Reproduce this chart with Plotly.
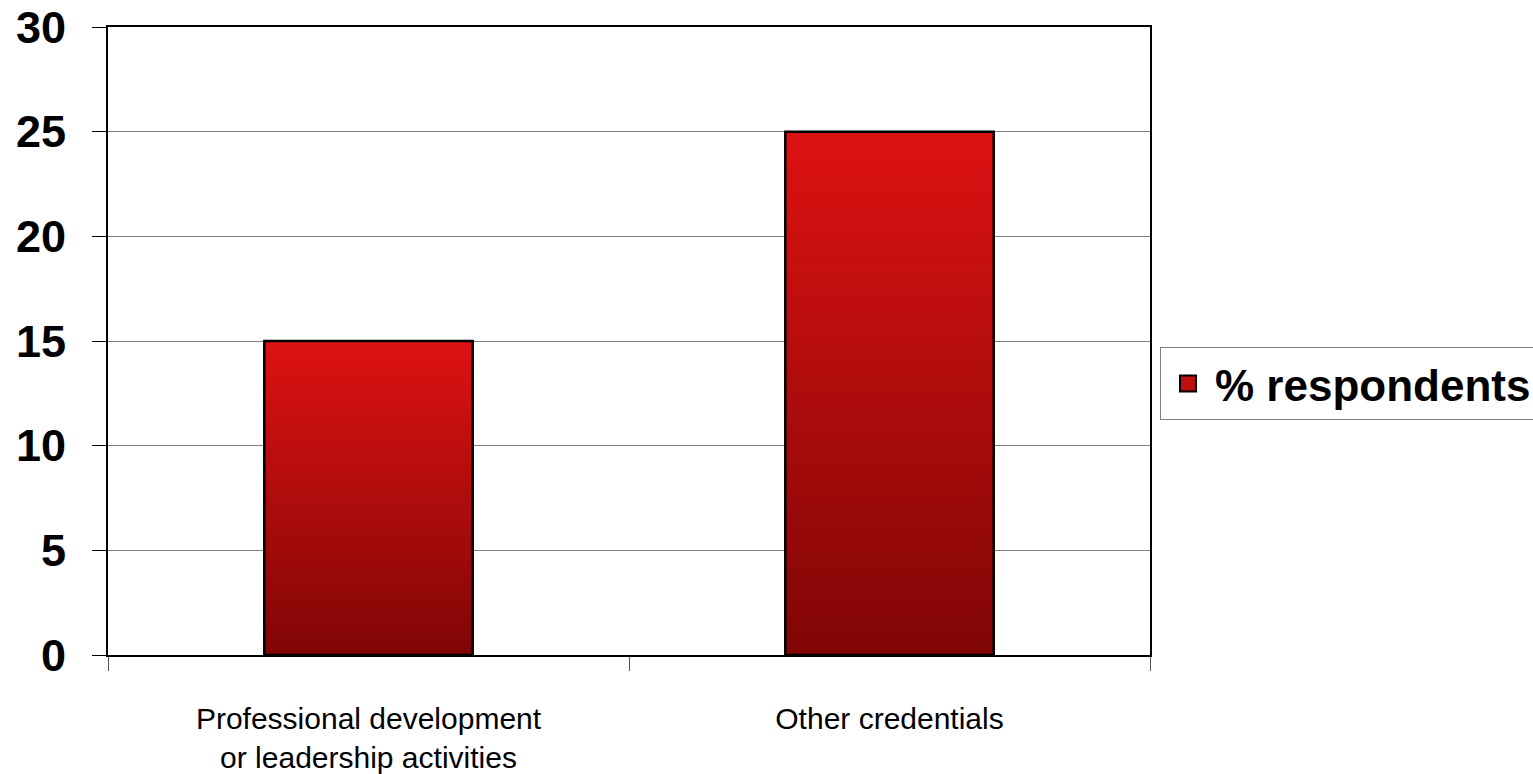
import plotly.graph_objects as go

categories = ["Professional development<br>or leadership activities", "Other credentials"]
values = [15, 25]
series_name = "% respondents"
y_ticks = [0, 5, 10, 15, 20, 25, 30]

N = 60
bottom = (128, 6, 6)
top = (222, 18, 18)

fig = go.Figure()
for i in range(N):
    t = (i + 0.5) / N
    c = tuple(round(bottom[k] + (top[k] - bottom[k]) * t) for k in range(3))
    col = f"rgb{c}"
    fig.add_trace(go.Bar(
        x=categories,
        y=[v / N for v in values],
        base=[v * i / N for v in values],
        width=0.4,
        marker=dict(color=col, line=dict(color=col, width=1.5)),
        showlegend=False, hoverinfo="skip",
    ))
# outline
fig.add_trace(go.Bar(
    x=categories, y=values, width=0.4,
    marker=dict(color="rgba(0,0,0,0)", line=dict(color="black", width=2.5)),
    showlegend=False,
))
# legend entry
fig.add_trace(go.Scatter(
    x=[categories[0]], y=[None], mode="markers", name=series_name,
    marker=dict(symbol="square", size=16, color="rgb(190,14,14)", line=dict(color="black", width=2)),
))

fig.update_layout(
    width=1533, height=774,
    margin=dict(l=108, r=383, t=27, b=119, autoexpand=False),
    barmode="overlay",
    plot_bgcolor="white", paper_bgcolor="white",
    font=dict(family="Liberation Sans, Arial, sans-serif", color="black"),
    legend=dict(
        x=1.0096, y=0.49, xanchor="left", yanchor="top",
        bordercolor="#808080", borderwidth=1, bgcolor="white",
        font=dict(size=44, weight="bold"),
        itemsizing="trace", itemwidth=44,
    ),
    showlegend=True,
)
fig.update_yaxes(
    range=[0, 30], tickvals=y_ticks, ticks="outside", ticklen=14, tickcolor="black",
    tickfont=dict(size=45, weight="bold"), ticklabelstandoff=17, automargin=False,
    showgrid=True, gridcolor="#808080", gridwidth=1,
    showline=True, linecolor="black", linewidth=2, mirror=True, zeroline=False,
)
fig.update_xaxes(
    ticks="outside", tickson="boundaries", ticklen=14, tickcolor="#555",
    tickfont=dict(size=30), ticklabelstandoff=36, automargin=False,
    showline=True, linecolor="black", linewidth=2, mirror=True,
)

fig.write_html("out.html")
